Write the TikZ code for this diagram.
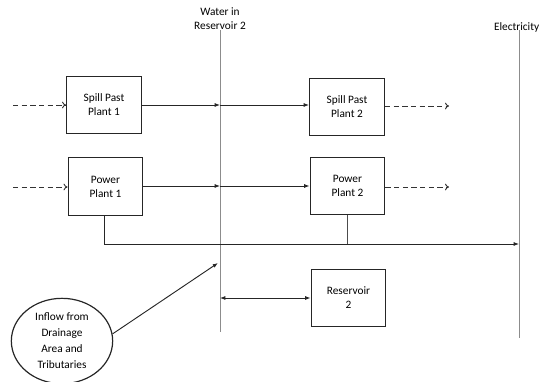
\documentclass[tikz,border=0pt]{standalone}
\usepackage{fontspec}
\setmainfont{Carlito}
\usetikzlibrary{arrows.meta,shapes.geometric}
\begin{document}
\begin{tikzpicture}[x=0.75pt,y=-0.75pt,
  box/.style={draw=black!85,line width=0.9pt,minimum width=56pt,minimum height=43pt,inner sep=0pt,align=center,font=\fontsize{8.5}{10.5}\selectfont},
  vline/.style={draw=black!45,line width=0.6pt},
  flow/.style={draw=black!85,line width=0.7pt,-{Latex[length=4pt,width=3pt]}},
  dflow/.style={draw=black!80,line width=0.7pt,dashed,dash pattern=on 4pt off 2.5pt,-{To[length=3pt,width=5pt]}},
  lbl/.style={font=\fontsize{8.5}{10.5}\selectfont,align=center,inner sep=0pt}]
\useasboundingbox (0,0) rectangle (540,382);
% vertical lines
\coordinate (v1t) at (220,30); \coordinate (v1b) at (220,332);
\coordinate (v2t) at (519,30); \coordinate (v2b) at (519,338);
\draw[vline] (v1t) -- (v1b);
\draw[vline] (v2t) -- (v2b);
\node[lbl] (wl) at (220,19) {Water in\\Reservoir 2};
\node[lbl,anchor=east] (el) at (539.5,27) {Electricity};
% boxes
\node[box] (sp1) at (104,105) {Spill Past\\Plant 1};
\node[box] (pp1) at (105.5,186.5) {Power\\Plant 1};
\node[box] (sp2) at (347,107) {Spill Past\\Plant 2};
\node[box] (pp2) at (347.5,186) {Power\\Plant 2};
\node[box] (res) at (348.5,298) {Reservoir\\2};
\node[draw=black!85,line width=0.9pt,ellipse,minimum width=76pt,minimum height=64pt,inner sep=0pt,align=center,font=\fontsize{8.5}{12}\selectfont] (inf) at (62,341) {Inflow from\\Drainage\\Area and\\Tributaries};
% dashed inputs / outputs
\coordinate (a1) at (13,105); \coordinate (a2) at (13,187);
\draw[dflow] (a1) -- (sp1.west);
\draw[dflow] (a2) -- (pp1.west |- a2);
\coordinate (b1) at (449,106); \coordinate (b2) at (449,187);
\draw[dflow] (sp2.east |- b1) -- (b1);
\draw[dflow] (pp2.east |- b2) -- (b2);
% solid flows
\coordinate (c1) at (220,105); \coordinate (c2) at (220,186);
\draw[flow] (sp1.east |- c1) -- (c1);
\draw[flow] (c1) -- (sp2.west |- c1);
\draw[flow] (pp1.east |- c2) -- (c2);
\draw[flow] (c2) -- (pp2.west |- c2);
% electricity
\coordinate (e1) at (104,244); \coordinate (e2) at (347,244); \coordinate (e3) at (519,244);
\draw[draw=black!85,line width=0.7pt] (pp1.south -| e1) -- (e1);
\draw[draw=black!70,line width=0.7pt] (pp2.south -| e2) -- (e2);
\draw[flow] (e1) -- (e3);
% reservoir
\coordinate (r1) at (220,298);
\draw[draw=black!85,line width=0.7pt,{Latex[length=4pt,width=3pt]}-{Latex[length=4pt,width=3pt]}] (r1) -- (res.west);
% inflow
\coordinate (i1) at (218,263);
\draw[flow] (inf.8) -- (i1);
\end{tikzpicture}
\end{document}
